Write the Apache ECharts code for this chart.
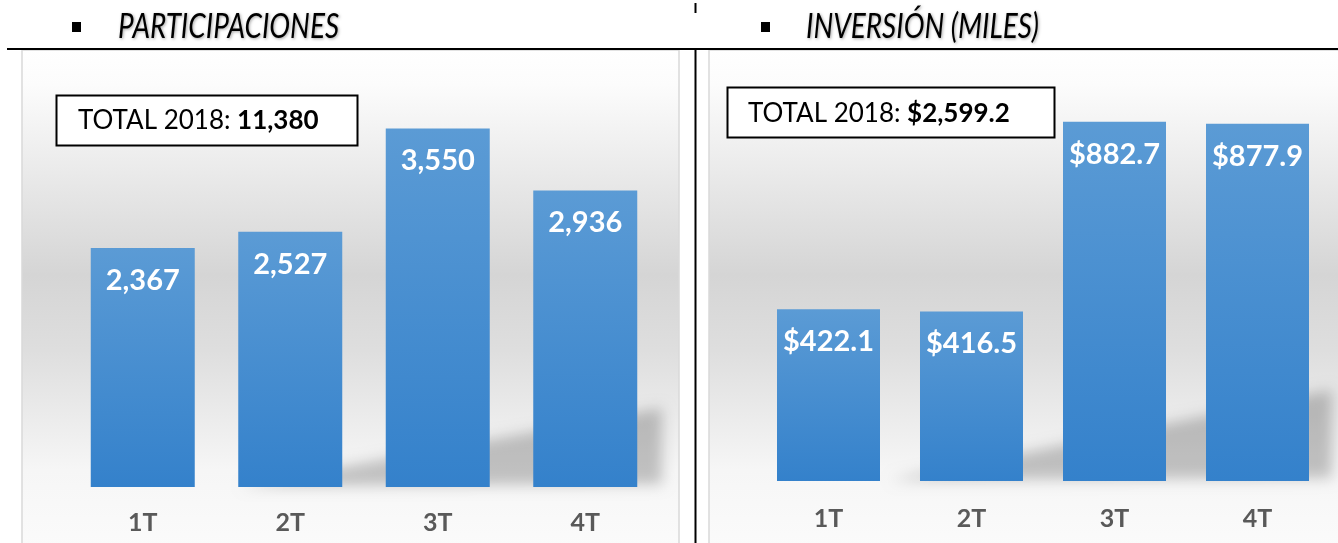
<!DOCTYPE html>
<html>
<head>
<meta charset="utf-8">
<script src="https://cdn.jsdelivr.net/npm/echarts@6/dist/echarts.min.js"></script>
<style>
  html, body { margin: 0; padding: 0; background: #ffffff; }
  #chart { width: 1338px; height: 543px; }
</style>
</head>
<body>
<div id="chart"></div>
<script>
// ---- data ----
var categories = ['1T', '2T', '3T', '4T'];
var participaciones = [2367, 2527, 3550, 2936];
var inversion = [422.1, 416.5, 882.7, 877.9];
var titleLeft = 'PARTICIPACIONES';
var titleRight = 'INVERSIÓN (MILES)';
var totalLabel = 'TOTAL 2018: ';
var totalParticipaciones = '11,380';
var totalInversion = '$2,599.2';

var FONT = 'Lato, "Open Sans", sans-serif';

function fmtInt(v) { return v.toLocaleString('en-US'); }
function fmtMoney(v) { return '$' + v.toLocaleString('en-US', {minimumFractionDigits: 1, maximumFractionDigits: 1}); }

var barColor = new echarts.graphic.LinearGradient(0, 0, 0, 1, [
  {offset: 0, color: '#5b9bd5'},
  {offset: 1, color: '#3481cb'}
]);

function panelBg() {
  return new echarts.graphic.LinearGradient(0, 0, 0, 1, [
    {offset: 0, color: '#ffffff'},
    {offset: 0.07, color: '#fcfcfc'},
    {offset: 0.45, color: '#d5d5d5'},
    {offset: 0.6, color: '#dedede'},
    {offset: 0.84, color: '#f6f6f6'},
    {offset: 1, color: '#fbfbfb'}
  ]);
}

function shadowPoly(points) {
  // shape drawn off-canvas; only its blurred shadow lands on the chart
  return {
    type: 'polygon', z: 1, silent: true,
    shape: {points: points.map(function (p) { return [p[0] - 3000, p[1]]; })},
    style: {fill: '#000', shadowColor: 'rgba(0,0,0,0.22)', shadowBlur: 14, shadowOffsetX: 3000, shadowOffsetY: 0}
  };
}

function labelStyle(fmt) {
  return {
    show: true, position: 'insideTop', distance: 18,
    color: '#ffffff', fontFamily: FONT, fontWeight: 'bold', fontSize: 29,
    formatter: function (p) { return fmt(p.value); }
  };
}

var chart = echarts.init(document.getElementById('chart'), null, {renderer: 'canvas'});

var headerStyle = {fontFamily: FONT, fontStyle: 'italic', fontSize: 34, fill: '#000',
  verticalAlign: 'middle', textShadowColor: 'rgba(0,0,0,0.35)', textShadowBlur: 3, textShadowOffsetX: 1, textShadowOffsetY: 1};

var option = {
  animation: false,
  grid: [
    {left: 69, width: 590, top: 83, height: 404},
    {left: 757, width: 572, top: 74, height: 407}
  ],
  xAxis: [
    {type: 'category', gridIndex: 0, data: categories,
     axisLine: {show: false}, axisTick: {show: false},
     axisLabel: {color: '#595959', fontFamily: FONT, fontWeight: 'bold', fontSize: 25, margin: 23}},
    {type: 'category', gridIndex: 1, data: categories,
     axisLine: {show: false}, axisTick: {show: false},
     axisLabel: {color: '#595959', fontFamily: FONT, fontWeight: 'bold', fontSize: 25, margin: 25}}
  ],
  yAxis: [
    {type: 'value', gridIndex: 0, min: 0, max: 4000, show: false, splitLine: {show: false}},
    {type: 'value', gridIndex: 1, min: 0, max: 1000, show: false, splitLine: {show: false}}
  ],
  series: [
    {type: 'bar', xAxisIndex: 0, yAxisIndex: 0, data: participaciones, barWidth: 104,
     itemStyle: {color: barColor}, label: labelStyle(fmtInt), z: 3},
    {type: 'bar', xAxisIndex: 1, yAxisIndex: 1, data: inversion, barWidth: 103,
     itemStyle: {color: barColor}, label: labelStyle(fmtMoney), z: 3}
  ],
  graphic: [
    // panel backgrounds
    {type: 'rect', z: 0, silent: true, shape: {x: 22, y: 50, width: 657, height: 500},
     style: {fill: panelBg(), stroke: '#d9d9d9', lineWidth: 1.5}},
    {type: 'rect', z: 0, silent: true, shape: {x: 709, y: 50, width: 640, height: 500},
     style: {fill: panelBg(), stroke: '#d9d9d9', lineWidth: 1.5}},
    // perspective shadows
    shadowPoly([[240, 486], [662, 408], [662, 484]]),
    shadowPoly([[890, 480], [1332, 390], [1332, 478]]),
    // separator lines
    {type: 'line', z: 10, silent: true, shape: {x1: 7, y1: 49, x2: 1338, y2: 49}, style: {stroke: '#000', lineWidth: 2}},
    {type: 'line', z: 10, silent: true, shape: {x1: 695.5, y1: 3, x2: 695.5, y2: 13}, style: {stroke: '#000', lineWidth: 2}},
    {type: 'line', z: 10, silent: true, shape: {x1: 695.5, y1: 48, x2: 695.5, y2: 543}, style: {stroke: '#000', lineWidth: 2}},
    // bullets
    {type: 'rect', z: 10, silent: true, shape: {x: 72, y: 22, width: 9, height: 10}, style: {fill: '#000'}},
    {type: 'rect', z: 10, silent: true, shape: {x: 761, y: 22, width: 9, height: 10}, style: {fill: '#000'}},
    // headers
    {type: 'text', z: 10, silent: true, x: 118, y: 27, scaleX: 0.82,
     style: Object.assign({text: titleLeft}, headerStyle)},
    {type: 'text', z: 10, silent: true, x: 806, y: 27, scaleX: 0.82,
     style: Object.assign({text: titleRight}, headerStyle)},
    // total boxes
    {type: 'rect', z: 10, silent: true, shape: {x: 56.5, y: 95.5, width: 301, height: 50}, style: {fill: '#fff', stroke: '#000', lineWidth: 2}},
    {type: 'text', z: 11, silent: true, x: 78, y: 121,
     style: {text: '{a|' + totalLabel + '}{b|' + totalParticipaciones + '}', verticalAlign: 'middle',
       rich: {a: {fontFamily: FONT, fontSize: 26, color: '#000'}, b: {fontFamily: FONT, fontSize: 26, fontWeight: 'bold', color: '#000'}}}},
    {type: 'rect', z: 10, silent: true, shape: {x: 727.5, y: 87.5, width: 327, height: 50}, style: {fill: '#fff', stroke: '#000', lineWidth: 2}},
    {type: 'text', z: 11, silent: true, x: 748, y: 114,
     style: {text: '{a|' + totalLabel + '}{b|' + totalInversion + '}', verticalAlign: 'middle',
       rich: {a: {fontFamily: FONT, fontSize: 26, color: '#000'}, b: {fontFamily: FONT, fontSize: 26, fontWeight: 'bold', color: '#000'}}}}
  ]
};
chart.setOption(option);
</script>
</body>
</html>
